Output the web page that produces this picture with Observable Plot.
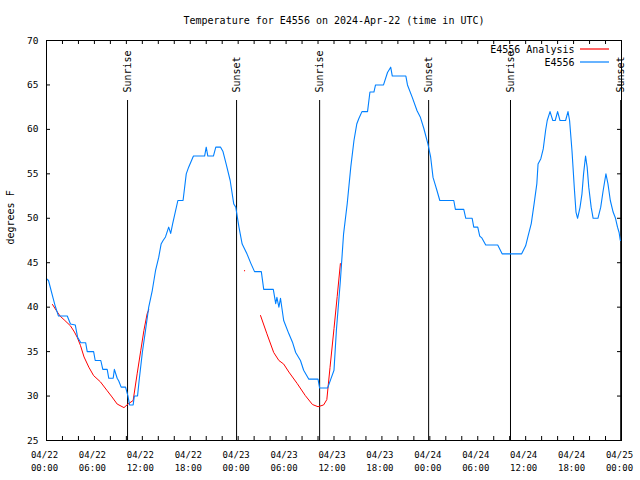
<!DOCTYPE html>
<html>
<head>
<meta charset="utf-8">
<script src="https://cdn.jsdelivr.net/npm/d3@7"></script>
<script src="https://cdn.jsdelivr.net/npm/@observablehq/plot@0.6"></script>
<style>
  html, body { margin: 0; padding: 0; background: #fff; }
  #chart svg { display: block; }
</style>
</head>
<body>
<div id="chart"></div>
<script>
// Hours since 2024-04-22 00:00 UTC
const obsHours = [0.0,0.25,0.8,1.1,1.5,2.6,3.0,3.6,3.9,4.3,4.9,5.1,5.9,6.1,6.8,7.05,7.6,7.8,8.35,8.5,8.85,9.05,9.35,9.9,10.2,10.4,10.85,11.0,11.4,11.6,12.0,12.4,12.8,13.25,13.65,14.05,14.35,14.6,14.9,15.3,15.55,15.8,16.45,17.1,17.5,17.8,18.4,19.8,20.0,20.2,20.9,21.2,21.8,22.1,22.5,23.0,23.45,23.7,23.9,24.1,24.5,25.1,25.6,26.05,26.9,27.2,28.4,28.7,28.85,29.1,29.3,29.7,30.35,30.8,31.2,31.8,32.2,32.85,34.0,34.2,35.2,35.6,36.0,36.3,36.8,37.2,37.65,38.1,38.5,38.85,39.1,39.5,40.2,40.5,41.0,41.2,42.2,42.7,43.1,43.3,45.0,45.2,45.8,46.4,46.8,47.25,47.75,48.1,48.4,48.7,48.9,49.25,51.0,51.2,52.25,52.5,53.3,53.5,54.0,54.25,54.5,55.0,56.5,57.05,59.5,60.0,60.3,60.7,61.05,61.4,61.55,61.9,62.2,62.5,62.7,63.05,63.4,63.7,64.0,64.3,65.0,65.3,65.5,65.8,66.1,66.3,66.5,66.8,67.05,67.25,67.5,67.7,67.9,68.2,68.45,69.05,69.4,69.7,70.05,70.3,70.6,70.95,71.25,71.5,71.7,71.85,72.0];
const obsTemps = [43.2,43,41.1,40.1,39,39,38.1,38,36.6,36,36,35,35,34,34,33,33,32,32,33,32,31.7,31,31,30,29,29,30,30,31.75,34.9,37.4,40,41.9,44.1,45.6,47.1,47.5,47.9,49,48.3,49.4,52,52,55,55.75,57,57,58,57,57,58,58,57.5,56.1,54.25,51.6,51.25,50.1,49,47.1,46,44.9,44,44,42,42,40.4,41.1,40,41,38.5,37,36.06,34.9,34,32.9,31.9,31.9,30.9,30.9,31.9,32.9,37.4,43,48.25,51.6,55.75,58.75,60.6,61.2,62,62,64.2,64.2,65,65,66.4,67,66,66,65,63.6,62.1,61.4,60.1,58.4,56.9,54.6,53.7,53.1,52,52,51,51,50,50,49,49,48,47.8,47,47,46,46,46.9,48,49.4,51.6,53.9,56.1,56.7,57.8,59.9,61,62,61,61,62,61,61,62,61,57.6,53.3,50.7,50,51.2,52.75,55,57,55.75,53.5,51.25,50,50,51.25,53.1,55,53.9,52,50.7,50,49,48.4,47.5,47.5];

// Analysis series (NaN = gap between segments)
const anaHours = [0.75,1.25,1.7,2.3,3.0,3.5,3.85,4.25,4.7,5.3,5.9,6.75,7.6,8.2,8.85,9.7,10.2,10.85,11.35,11.8,12.2,12.6,12.8, NaN, 26.8,27.6,28.45,29.1,29.7,30.35,31.4,32.4,33.3,34.0,34.7,35.1,35.5,36.0,36.4,36.8];
const anaTemps = [40.3,39.6,39,38.5,37.9,37.2,36.6,35.7,34.4,33.25,32.3,31.6,30.6,29.9,29.1,28.7,29.1,29.5,32.5,35.1,37.4,39.25,39.7, NaN, 39.06,37,34.9,34,33.6,32.7,31.4,30.06,29.05,28.8,29,29.6,33.2,37.6,41.2,44.9];
const anaDotHours = [24.8];
const anaDotTemps = [44.1];

const sunHours = [10.15, 23.8, 34.2, 47.85, 58.1, 71.9];
const sunLabels = ["Sunrise", "Sunset", "Sunrise", "Sunset", "Sunrise", "Sunset"];

const xTickHours = [0,6,12,18,24,30,36,42,48,54,60,66,72];
const xTickLabels = ["04/22\n00:00","04/22\n06:00","04/22\n12:00","04/22\n18:00","04/23\n00:00","04/23\n06:00","04/23\n12:00","04/23\n18:00","04/24\n00:00","04/24\n06:00","04/24\n12:00","04/24\n18:00","04/25\n00:00"];
const xMinorHours = d3.range(0, 73, 2);
const yTicks = [25,30,35,40,45,50,55,60,65,70];

const titleText = "Temperature for E4556 on 2024-Apr-22 (time in UTC)";
const yLabel = "degrees F";
const seriesNames = ["E4556 Analysis", "E4556"];
const seriesColors = ["#ff0000", "#0080ff"];

const obs = obsHours.map((h, i) => ({h, t: obsTemps[i]}));
const ana = anaHours.map((h, i) => ({h, t: anaTemps[i]}));
const anaDot = anaDotHours.map((h, i) => ({h, t: anaDotTemps[i]}));
const sun = sunHours.map((h, i) => ({h, label: sunLabels[i]}));
const xt = xTickHours.map((h, i) => ({h, label: xTickLabels[i]}));

const W = 640, H = 480, mL = 46, mR = 19, mT = 40, mB = 40;
const pw = W - mL - mR, ph = H - mT - mB;
const font = "DejaVu Sans Mono";

const chart = Plot.plot({
  width: W, height: H,
  marginLeft: mL, marginRight: mR, marginTop: mT, marginBottom: mB,
  style: {fontFamily: font, fontSize: "10px", background: "white", color: "black"},
  x: {domain: [0, 72], axis: null},
  y: {domain: [25, 70], axis: null},
  marks: [
    // sunrise / sunset rules
    Plot.ruleX(sun, {x: "h", stroke: "black", strokeWidth: 1, insetTop: 60}),
    Plot.text(sun, {x: "h", text: "label", frameAnchor: "top", dy: 52, rotate: -90, textAnchor: "start", lineAnchor: "middle", fontSize: 10, fill: "black"}),
    // ticks (inward)
    Plot.ruleX(xMinorHours, {x: d => d, insetTop: ph - 4, stroke: "black"}),
    Plot.ruleX(xMinorHours, {x: d => d, insetBottom: ph - 4, stroke: "black"}),
    Plot.ruleY(yTicks, {y: d => d, insetRight: pw - 4, stroke: "black"}),
    Plot.ruleY(yTicks, {y: d => d, insetLeft: pw - 4, stroke: "black"}),
    // data
    Plot.line(ana, {x: "h", y: "t", stroke: seriesColors[0], strokeWidth: 1}),
    Plot.dot(anaDot, {x: "h", y: "t", r: 0.6, fill: seriesColors[0], stroke: null}),
    Plot.line(obs, {x: "h", y: "t", stroke: seriesColors[1], strokeWidth: 1.1, curve: "linear"}),
    Plot.frame({stroke: "black", strokeWidth: 1}),
    // tick labels
    Plot.text(xt, {x: "h", text: "label", frameAnchor: "bottom", dy: 8, dx: -2, lineAnchor: "top", lineHeight: 1.45, fontSize: 9, fill: "black"}),
    Plot.text(yTicks, {y: d => d, text: d => String(d), frameAnchor: "left", dx: -8, textAnchor: "end", fontSize: 9.5, fill: "black"}),
    // title & axis label
    Plot.text([titleText], {text: d => d, frameAnchor: "top", dy: -20, lineAnchor: "middle", fontSize: 10, fill: "black"}),
    Plot.text([yLabel], {text: d => d, frameAnchor: "left", dx: -36, dy: 4, rotate: -90, fontSize: 10, fill: "black"}),
    // legend text
    Plot.text([seriesNames[0]], {text: d => d, frameAnchor: "top-right", dx: -47, dy: 9, textAnchor: "end", lineAnchor: "middle", fontSize: 10, fill: "black"}),
    Plot.text([seriesNames[1]], {text: d => d, frameAnchor: "top-right", dx: -47, dy: 22, textAnchor: "end", lineAnchor: "middle", fontSize: 10, fill: "black"})
  ]
});

// legend swatches
const svg = d3.select(chart);
[0, 1].forEach(i => {
  svg.append("line")
    .attr("x1", W - mR - 41).attr("x2", W - mR - 12)
    .attr("y1", mT + 9 + i * 13).attr("y2", mT + 9 + i * 13)
    .attr("stroke", seriesColors[i]).attr("stroke-width", 1.2);
});

document.getElementById("chart").appendChild(chart);
</script>
</body>
</html>
